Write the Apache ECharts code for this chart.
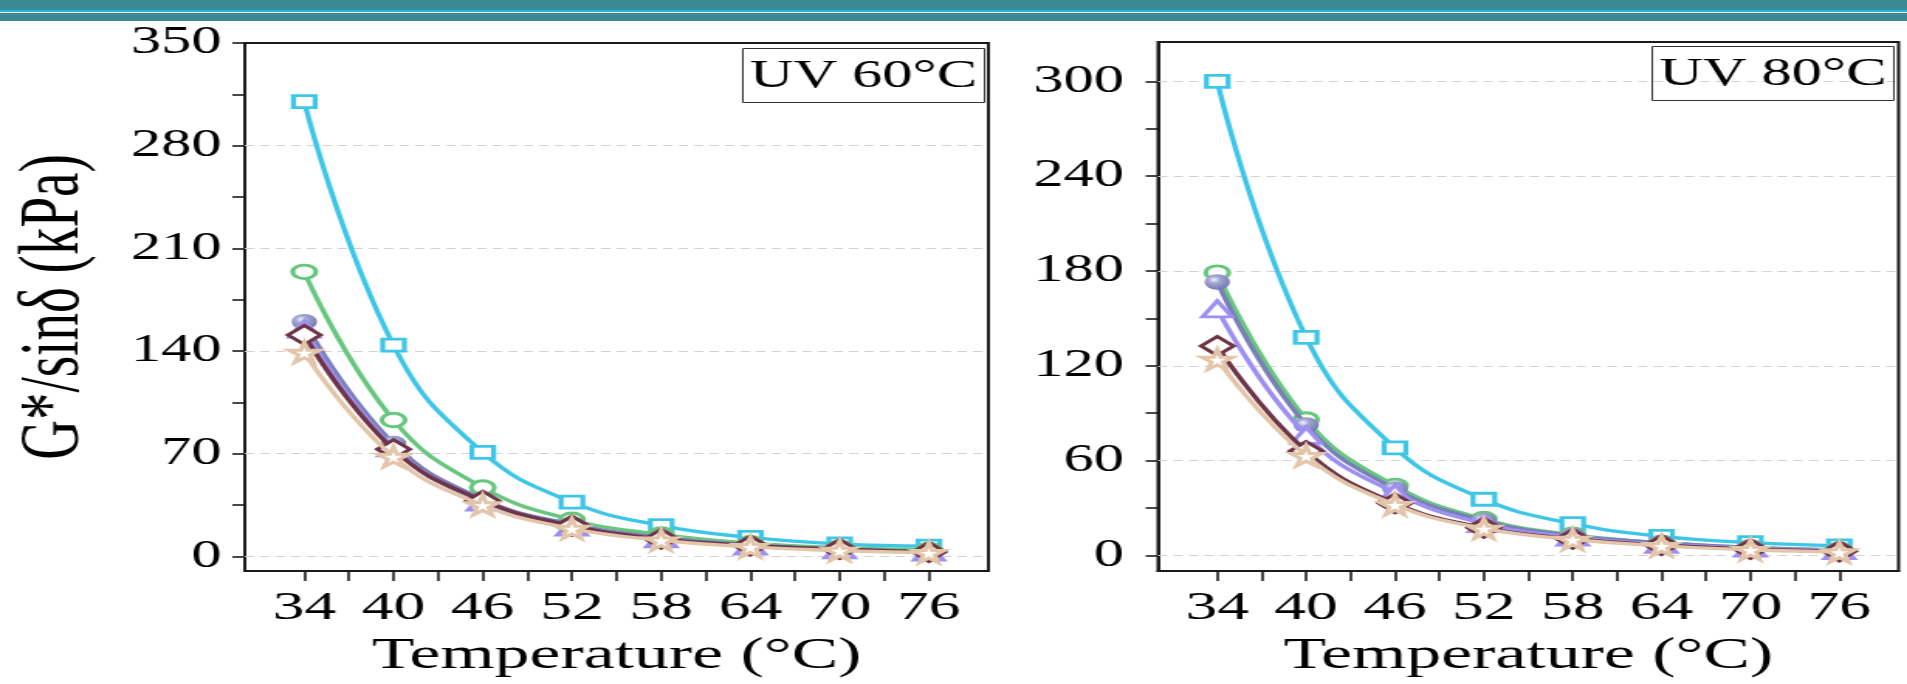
<!DOCTYPE html>
<html>
<head>
<meta charset="utf-8">
<script src="https://cdn.jsdelivr.net/npm/echarts@6/dist/echarts.min.js"></script>
<style>
html, body { margin: 0; padding: 0; background: #fff; overflow: hidden; }
/* the source figure is stretched sideways, so draw narrow and stretch it */
#main { width: 1231px; height: 684px; transform: scaleX(1.5492); transform-origin: 0 0; }
</style>
</head>
<body>
<div id="main"></div>
<script>
var temps = [34, 40, 46, 52, 58, 64, 70, 76];
var xTicks = [34, 37, 40, 43, 46, 49, 52, 55, 58, 61, 64, 67, 70, 73, 76];
var xLabels = [34, 40, 46, 52, 58, 64, 70, 76];

var y60Ticks = [0, 35, 70, 105, 140, 175, 210, 245, 280, 315, 350];
var y60Labels = [0, 70, 140, 210, 280, 350];
var y80Ticks = [0, 30, 60, 90, 120, 150, 180, 210, 240, 270, 300];
var y80Labels = [0, 60, 120, 180, 240, 300];

// UV 60°C
var uv60Square = [310, 144, 71, 37, 21, 13, 8.5, 7];
var uv60Circle = [194, 93, 47, 25, 15, 9, 6, 4.5];
var uv60Sphere = [160, 77, 39, 22, 13, 8, 5, 3.5];
var uv60Triangle = [155, 74, 37, 20, 12, 7, 4.5, 3];
var uv60Diamond = [151, 73, 38, 21, 12, 7.5, 5, 3];
var uv60Star = [139, 68, 35, 19, 11, 6.5, 4, 2.5];

// UV 80°C
var uv80Square = [300, 138, 68, 35.5, 20, 12, 8, 6];
var uv80Circle = [179, 86, 44, 23, 13, 8, 5, 3.5];
var uv80Sphere = [173, 82.5, 42, 22, 12.5, 8, 5, 3.5];
var uv80Triangle = [156, 76, 39.5, 20, 11.5, 7, 4.5, 3];
var uv80Diamond = [132.5, 66, 33, 17.5, 10.5, 6.5, 4, 2.5];
var uv80Star = [124, 63, 32, 17, 10, 6, 3.5, 2];

var FONT = 'Liberation Serif';
var starPath = 'path://M50,0 L61,35 L98,35 L68,57 L79,91 L50,70 L21,91 L32,57 L2,35 L39,35 Z';
var sphereFill = {
  type: 'radial', x: 0.38, y: 0.35, r: 0.75,
  colorStops: [
    { offset: 0, color: '#f6f6fc' },
    { offset: 0.3, color: '#a3a7d4' },
    { offset: 1, color: '#6c71ab' }
  ]
};

var styles = [
  { color: '#3ec6e8', symbol: 'rect', size: [14, 12], fill: '#fff' },
  { color: '#68c77f', symbol: 'circle', size: [15, 13.5], fill: '#fff' },
  { color: '#7a7fb8', symbol: 'circle', size: [16.5, 15.5], fill: sphereFill, solid: true },
  { color: '#9e90f2', symbol: 'triangle', size: [19, 16], fill: '#fff' },
  { color: '#6f3547', symbol: 'diamond', size: [21, 19], fill: '#fff' },
  { color: '#e3c6aa', symbol: starPath, size: [20, 20], fill: '#fff' }
];

function makeSeries(sets, idx, gridLines) {
  return sets.map(function (vals, i) {
    var st = styles[i];
    var s = {
      type: 'line',
      xAxisIndex: idx, yAxisIndex: idx,
      data: temps.map(function (t, k) { return [t, vals[k]]; }),
      smooth: 0.45,
      symbol: st.symbol,
      symbolSize: st.size,
      lineStyle: { color: st.color, width: 3.4 },
      itemStyle: st.solid
        ? { color: st.fill, borderWidth: 0 }
        : { color: st.fill, borderColor: st.color, borderWidth: 3 },
      z: 2 + i
    };
    if (i === 0) {
      s.markLine = {
        silent: true, symbol: ['none', 'none'], z: 1,
        label: { show: false },
        lineStyle: { color: '#d2d2d2', type: [6, 4], width: 1.2 },
        data: gridLines.map(function (v) { return { yAxis: v }; })
      };
    }
    return s;
  });
}

function xAxisFor(idx) {
  return {
    gridIndex: idx, type: 'value', min: 30, max: 80,
    name: 'Temperature (°C)', nameLocation: 'middle', nameGap: 56,
    nameTextStyle: { fontFamily: FONT, fontSize: 45, color: '#000' },
    axisLine: { onZero: false, lineStyle: { color: '#1a1a1a', width: 2 } },
    axisTick: { show: true, length: 10, customValues: xTicks, lineStyle: { color: '#1a1a1a', width: 1.6 } },
    axisLabel: { customValues: xLabels, fontFamily: FONT, fontSize: 41, color: '#000', margin: 17 },
    splitLine: { show: false }
  };
}

function yAxisFor(idx, max, ticks, labels, margin) {
  return {
    gridIndex: idx, type: 'value', min: -10, max: max,
    axisLine: { show: true, onZero: false, lineStyle: { color: '#1a1a1a', width: 2 } },
    axisTick: { show: true, length: 8, customValues: ticks, lineStyle: { color: '#1a1a1a', width: 1.6 } },
    axisLabel: { customValues: labels, fontFamily: FONT, fontSize: 39, color: '#000', margin: margin },
    splitLine: { show: false }
  };
}

var chart = echarts.init(document.getElementById('main'));
var y60 = yAxisFor(0, 350, y60Ticks, y60Labels, 15);
y60.name = 'G*/sinδ (kPa)';
y60.nameLocation = 'middle';
y60.nameGap = 95;
y60.nameTextStyle = { fontFamily: FONT, fontSize: 55, color: '#000' };

// the top label of the left panel sits on the frame, so no dashed line there
var grid60 = y60Labels.filter(function (v) { return v < 350; });

chart.setOption({
  animation: false,
  backgroundColor: '#fff',
  graphic: [
    { type: 'rect', left: 0, top: 0, shape: { width: 1231, height: 10 }, style: { fill: '#3b8a93' } },
    { type: 'rect', left: 0, top: 10, shape: { width: 1231, height: 2 }, style: { fill: '#22b5e6' } },
    { type: 'rect', left: 0, top: 13, shape: { width: 1231, height: 8 }, style: { fill: '#3b8a93' } }
  ],
  title: [
    {
      text: 'UV 60°C', left: 479, top: 48,
      borderColor: '#333', borderWidth: 1, padding: [6, 5, 4, 5],
      textStyle: { fontFamily: FONT, fontSize: 39, fontWeight: 'normal', color: '#000', lineHeight: 45 }
    },
    {
      text: 'UV 80°C', left: 1066, top: 46,
      borderColor: '#333', borderWidth: 1, padding: [6, 5, 4, 5],
      textStyle: { fontFamily: FONT, fontSize: 39, fontWeight: 'normal', color: '#000', lineHeight: 45 }
    }
  ],
  grid: [
    { left: 158, top: 43, width: 480, height: 534, show: true, borderColor: '#1a1a1a', borderWidth: 2, backgroundColor: 'transparent' },
    { left: 747.5, top: 42, width: 478, height: 533, show: true, borderColor: '#1a1a1a', borderWidth: 2, backgroundColor: 'transparent' }
  ],
  xAxis: [xAxisFor(0), xAxisFor(1)],
  yAxis: [y60, yAxisFor(1, 325, y80Ticks, y80Labels, 22)],
  series: makeSeries([uv60Square, uv60Circle, uv60Sphere, uv60Triangle, uv60Diamond, uv60Star], 0, grid60)
    .concat(makeSeries([uv80Square, uv80Circle, uv80Sphere, uv80Triangle, uv80Diamond, uv80Star], 1, y80Labels))
});
</script>
</body>
</html>
